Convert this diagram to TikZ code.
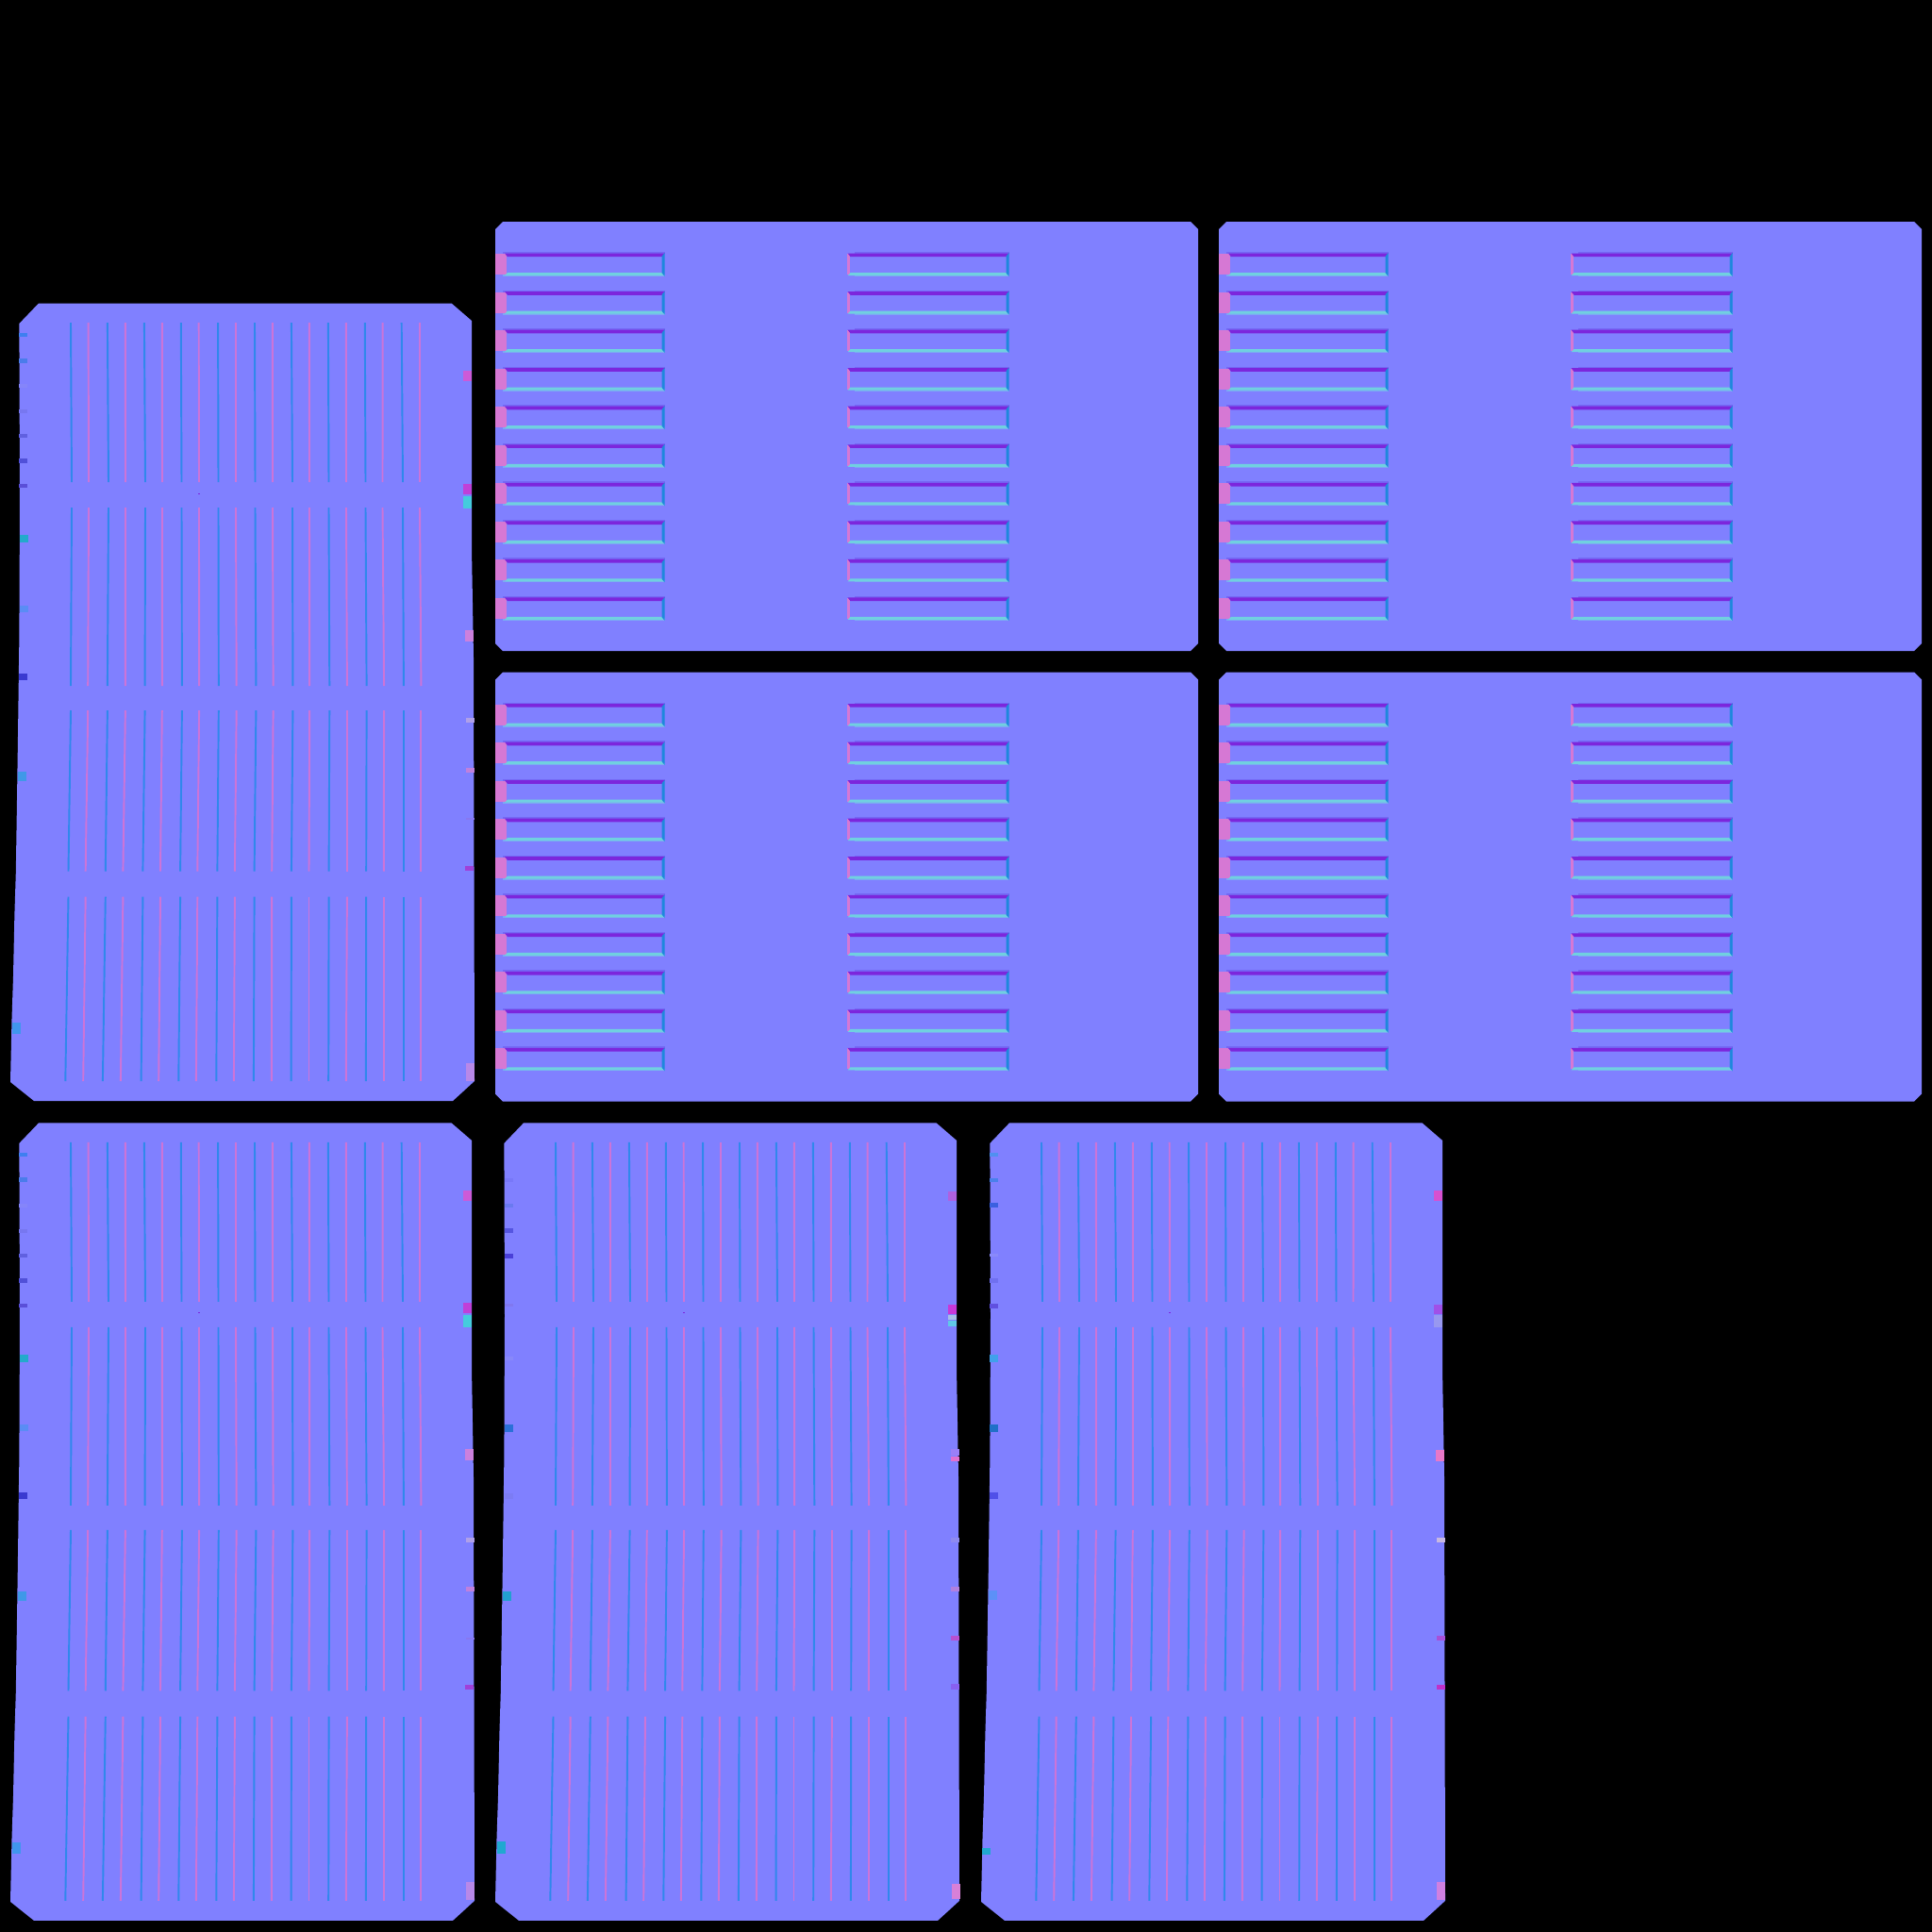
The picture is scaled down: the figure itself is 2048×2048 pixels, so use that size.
\documentclass[tikz,border=0pt]{standalone}
\definecolor{sheetbg}{HTML}{8080FF}
\definecolor{barpurple}{HTML}{7C26DC}
\definecolor{barcyan}{HTML}{70D0E0}
\definecolor{barblue}{HTML}{1E88DC}
\definecolor{barpink}{HTML}{D678D4}
\definecolor{barrim}{HTML}{7468F4}
\definecolor{rimcyan}{HTML}{7CA8F4}
\definecolor{gridblue}{HTML}{3088EC}
\definecolor{gridpink}{HTML}{CC74D8}
\tikzset{
  sheet/.style={fill=sheetbg},
  gridline0/.style={draw=gridblue,line width=0.55pt},
  gridline1/.style={draw=gridpink,line width=0.55pt},
}
% line positions across the long panels, at each knee
\def\kneeA{{75,93.6,113.9,132.9,152.9,171.8,191.8,210.7,231.1,250,270,288.9,308.9,327.9,347.9,366.8,386.8,405.7,425.7,445}}
\def\kneeB{{76,94,115,133,154,172,192.5,211,231.5,250,270.5,289,310,328,348.5,367,387.5,405.5,427,445}}
\def\kneeC{{75,93.2,113.9,132.9,153.6,171.8,192.9,211.1,231.8,250.7,271.4,289.6,310.4,328.2,349.3,367.9,388.6,407.1,427.9,446.4}}
\def\kneeD{{72.5,90.7,111.8,130.4,151.4,170,191.1,209.3,230.4,248.9,269.6,288.2,308.9,327.5,348.6,367.9,388.2,406.8,427.9,446.4}}
\def\kneeE{{69.3,88.2,108.9,127.9,149.6,168.2,189.3,207.9,229.3,247.9,268.9,287.9,308.6,327.5,348.2,366.8,387.9,406.8,427.9,446.4}}
% #1,#2 shift, #3 side marks x/y/height/colour
\newcommand{\longpanel}[3]{
  \begin{scope}[shift={(#1,#2)}]
    \fill[sheet] (41,321.5)--(478.6,321.5)--(500,340)--(500,581)--(501,639)--(502,697)--(503,1146)--(480,1167)--(36,1167)--(11,1147)--(12.5,1080)--(14,1035)--(15.4,969)--(16.8,925)--(17.9,855)--(19,781)--(20.4,675)--(21,526)--(20.4,343)--cycle;
    \foreach \i in {0,...,19}{
      \pgfmathsetmacro{\xa}{\kneeA[\i]}
      \pgfmathsetmacro{\xb}{\kneeB[\i]}
      \pgfmathsetmacro{\xc}{\kneeC[\i]}
      \pgfmathsetmacro{\xd}{\kneeD[\i]}
      \pgfmathsetmacro{\xe}{\kneeE[\i]}
      \pgfmathtruncatemacro{\odd}{mod(\i,2)}
      \draw[gridline\odd] (\xa,342)--(\xb,511);
      \draw[gridline\odd] (\xb,538)--(\xc,727);
      \draw[gridline\odd] (\xc,753)--(\xd,923.5);
      \draw[gridline\odd] (\xd,950.6)--(\xe,1146);
    }
    \fill[barpurple] (210,522.5) rectangle ++(2,1);
    \foreach \x/\y/\h/\c in {#3}{
      \definecolor{markcol}{HTML}{\c}
      \fill[markcol] ({\x},{\y-\h/2}) rectangle ++(9,\h);
    }
  \end{scope}
}
% #1 left, #2 right, #3 top, #4 right end of the pink foot
\newcommand{\slat}[4]{
  \fill[barrim] (#1+8,#3-1) rectangle (#2,#3+1);
  \fill[rimcyan] (#1+8,#3+22.5) rectangle (#2,#3+25);
  \fill[barpink] (#1,#3+1) rectangle (#4,#3+23);
  \fill[barpurple] (#4-2,#3+.5)--(#2,#3+.5)--(#2-3,#3+4.2)--(#4+1,#3+4.2)--cycle;
  \fill[barcyan] (#4+1,#3+21)--(#2-3,#3+21)--(#2,#3+24)--(#4-2,#3+24)--cycle;
  \fill[barblue] (#2-3,#3+3.5)--(#2,#3)--(#2,#3+25)--(#2-3,#3+21.5)--cycle;
}
\newcommand{\widepanel}[2]{
  \begin{scope}[shift={(#1,#2)}]
    \fill[sheet] (533,235)--(1262,235)--(1270,243)--(1270,682)--(1262,690)--(533,690)--(525,682)--(525,243)--cycle;
    \foreach \n in {0,...,9}{
      \pgfmathsetmacro{\ytop}{268+40.55*\n}
      \slat{525}{704.7}{\ytop}{537}
      \slat{897.5}{1069.6}{\ytop}{900.5}
    }
  \end{scope}
}
\begin{document}
\begin{tikzpicture}[x=0.01cm,y=-0.01cm]
  \useasboundingbox (0,0) rectangle (2048,2048);
  \fill[black] (0,0) rectangle (2048,2048);
  \widepanel{0}{0}
  \widepanel{767}{0}
  \widepanel{0}{477.5}
  \widepanel{767}{477.5}
  % long panels, the marks along their sides differ
  \longpanel{0}{0}{20.4/355.4/4/3F7FF0,20.4/382/5/4A7CEB,20.4/408.6/4/8585FA,20.4/435.7/4/7777F0,20.4/462.3/4/6060E0,20.4/488.8/5/5050D8,20.4/515.4/4/5A4FD8,21.4/571.3/8/22AACC,21.4/645/7/5A8CF5,20.4/717/7/3A3AD0,19.2/823/10/3F98E8,13/1090/12/4096EE,491/398.6/11/CC5AD8,491/518/11/C040D8,491/532/13/44CCDD,493/673.5/12/CC80DD,494/763.5/5/B0A0E8,494/816/5/C080DC,494/868/2/8878F0,493/920/5/A040D8,494/1136/19/B888E8}
  \longpanel{0}{868.9}{20.4/355.4/4/3F7FF0,20.4/382/5/4A7CEB,20.4/408.6/4/8585FA,20.4/435.7/4/7777F0,20.4/462.3/4/6060E0,20.4/488.8/5/5050D8,20.4/515.4/4/5A4FD8,21.4/571.3/8/22AACC,21.4/645/7/5A8CF5,20.4/717/7/3A3AD0,19.2/823/10/3F98E8,13/1090/12/4096EE,491/398.6/11/CC5AD8,491/518/11/C040D8,491/532/13/44CCDD,493/673.5/12/CC80DD,494/763.5/5/B0A0E8,494/816/5/C080DC,494/868/2/8878F0,493/920/5/A040D8,494/1136/19/B888E8}
  \longpanel{514}{868.9}{21/382/4/7878F8,21/408.6/4/6A7AF0,21/435.7/5/5555E0,21/462.3/5/4A40D8,21/515/3/8078F0,21/571/4/8888FA,21/645/8/2A70D8,21/717/6/7C7CF4,19.2/823/10/22A0D0,13.1/1090/13/20A8D0,491/398.6/10/B060E0,491/518.7/10/C838D8,491/527.5/5/A8C0E8,491/534/6/60C8E8,494/671/7/9A80F8,494/677.6/5/E070D0,494/763.5/5/8E8AF0,494/816/5/B080E0,494/868/5/B850D0,494/919/6/8860F0,495/1136/16/D880D8}
  \longpanel{1029}{868.9}{20.3/355.4/4/5090F0,20.3/382/4/4A80EC,20.3/409/5/3A60E0,20.3/462/3/8A8AFA,20.3/489/5/7070F0,20.3/515.4/5/6050E0,20.3/571/8/40A0EC,20.3/645/8/2070C8,20.3/717/7/5050E8,19.2/821.6/10/5C90F8,12.4/1094/7/20A8D0,491/398.6/11/D850D0,491/518.7/10/A050E8,491/531.5/13/9898F0,493/673.8/12/E878C8,494/763.5/5/C8B8E0,494/868/5/A850D8,494/920/5/C030C8,494/1136/19/D080E0}
\end{tikzpicture}
\end{document}
